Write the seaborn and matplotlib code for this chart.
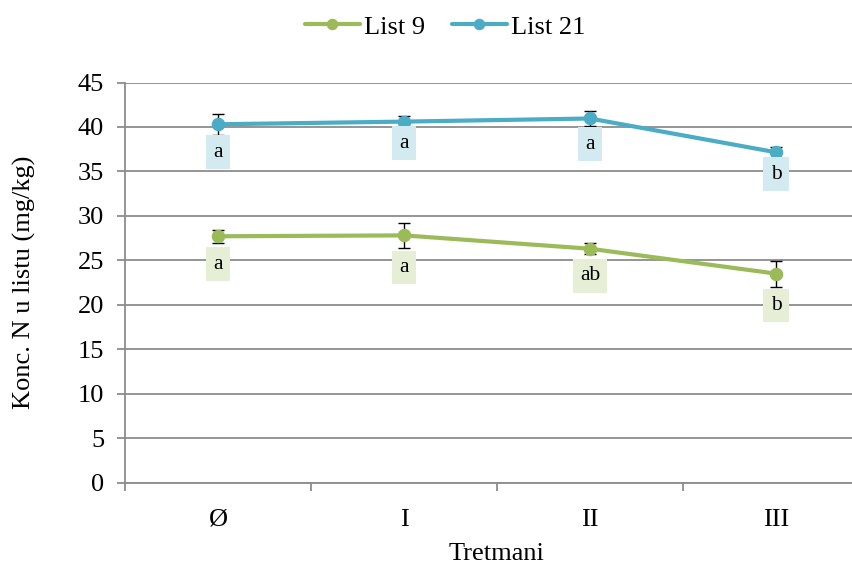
import numpy as np
import pandas as pd
import seaborn as sns
import matplotlib.pyplot as plt

# Treatments and nitrogen concentration in leaves (mg/kg)
treatments = ["Ø", "I", "II", "III"]
series_names = ["List 9", "List 21"]
list9_mean = [27.7, 27.8, 26.3, 23.5]
list9_err = [0.75, 1.45, 0.65, 1.45]
list21_mean = [40.3, 40.6, 40.95, 37.15]
list21_err = [1.15, 0.65, 0.8, 0.65]
list9_letters = ["a", "a", "ab", "b"]
list21_letters = ["a", "a", "a", "b"]

# Styling
colors = {"List 9": "#9BBB59", "List 21": "#4BACC6"}
box_colors = {"List 9": "#E6EED6", "List 21": "#D4EAF1"}
label_offsets = {"List 9": [20, 23, 19.5, 23], "List 21": [20, 15.5, 18.5, 15.8]}
grey = "#8C8C8C"

sns.set_style("white")
plt.rcParams["font.family"] = ["Liberation Serif", "DejaVu Serif"]
plt.rcParams["text.color"] = "black"
plt.rcParams["xtick.labelcolor"] = "black"
plt.rcParams["ytick.labelcolor"] = "black"
plt.rcParams["axes.labelcolor"] = "black"

df = pd.DataFrame({
    "Tretman": treatments * 2,
    "value": list9_mean + list21_mean,
    "serija": [series_names[0]] * 4 + [series_names[1]] * 4,
})

fig = plt.figure(figsize=(8.53, 5.63), dpi=100)
W, H = 853, 563
ax = fig.add_axes([125 / W, (H - 482.5) / H, 744 / W, 400 / H])

# Error bars under the lines
means = {"List 9": list9_mean, "List 21": list21_mean}
errs = {"List 9": list9_err, "List 21": list21_err}
letters = {"List 9": list9_letters, "List 21": list21_letters}
xpos = np.arange(len(treatments))
for name in series_names:
    ax.errorbar(xpos, means[name], yerr=errs[name], fmt="none", ecolor="black",
                elinewidth=1.0, capsize=4.5, capthick=1.0, zorder=2)

sns.pointplot(data=df, x="Tretman", y="value", hue="serija", order=treatments,
              hue_order=series_names, palette=colors, errorbar=None, ax=ax,
              markers="o", linewidth=3, markersize=7.5, zorder=3)
for line in ax.lines:
    line.set_zorder(3)

# Significance letters in shaded boxes beneath each point
for name in series_names:
    for i, (m, lt) in enumerate(zip(means[name], letters[name])):
        ax.annotate(lt, xy=(i, m), xytext=(0, -label_offsets[name][i]),
                    textcoords="offset points", ha="center", va="center",
                    fontsize=15.5, color="black", zorder=4,
                    bbox=dict(boxstyle="square,pad=0.34", fc=box_colors[name], ec="none"))

ax.set_ylim(0, 45)
ax.set_xlim(-0.5, 3.5)
ax.set_yticks(np.arange(0, 46, 5))
ax.yaxis.grid(True, color=grey, linewidth=1.3)
ax.xaxis.grid(False)
ax.set_axisbelow(True)

for s in ["top", "right"]:
    ax.spines[s].set_visible(False)
for s in ["left", "bottom"]:
    ax.spines[s].set_color(grey)
    ax.spines[s].set_linewidth(1.3)

ax.tick_params(axis="y", which="major", length=6, width=1.3, color=grey,
               labelsize=19, pad=9, left=True)
ax.set_xticks(xpos)
ax.set_xticklabels(treatments)
ax.set_xticks(np.arange(-0.5, 3.6, 1), minor=True)
ax.tick_params(axis="x", which="major", length=0, labelsize=19, pad=19)
ax.tick_params(axis="x", which="minor", length=6, width=1.3, color=grey,
               bottom=True, direction="out")

ax.set_xlabel("Tretmani", fontsize=19)
ax.set_ylabel("Konc. N u listu (mg/kg)", fontsize=19)
ax.xaxis.set_label_coords(372 / 744, -0.15)
ax.yaxis.set_label_coords(-0.12, 0.5)

handles, labels = ax.get_legend_handles_labels()
if ax.get_legend() is not None:
    ax.get_legend().remove()
fig.legend(handles, labels, loc="center", bbox_to_anchor=(445 / W, 1 - 27 / H),
           ncol=2, frameon=False, fontsize=19, handlelength=2.1,
           handletextpad=0.15, columnspacing=1.0, markerscale=0.8)

fig.savefig("out.png", dpi=100)
